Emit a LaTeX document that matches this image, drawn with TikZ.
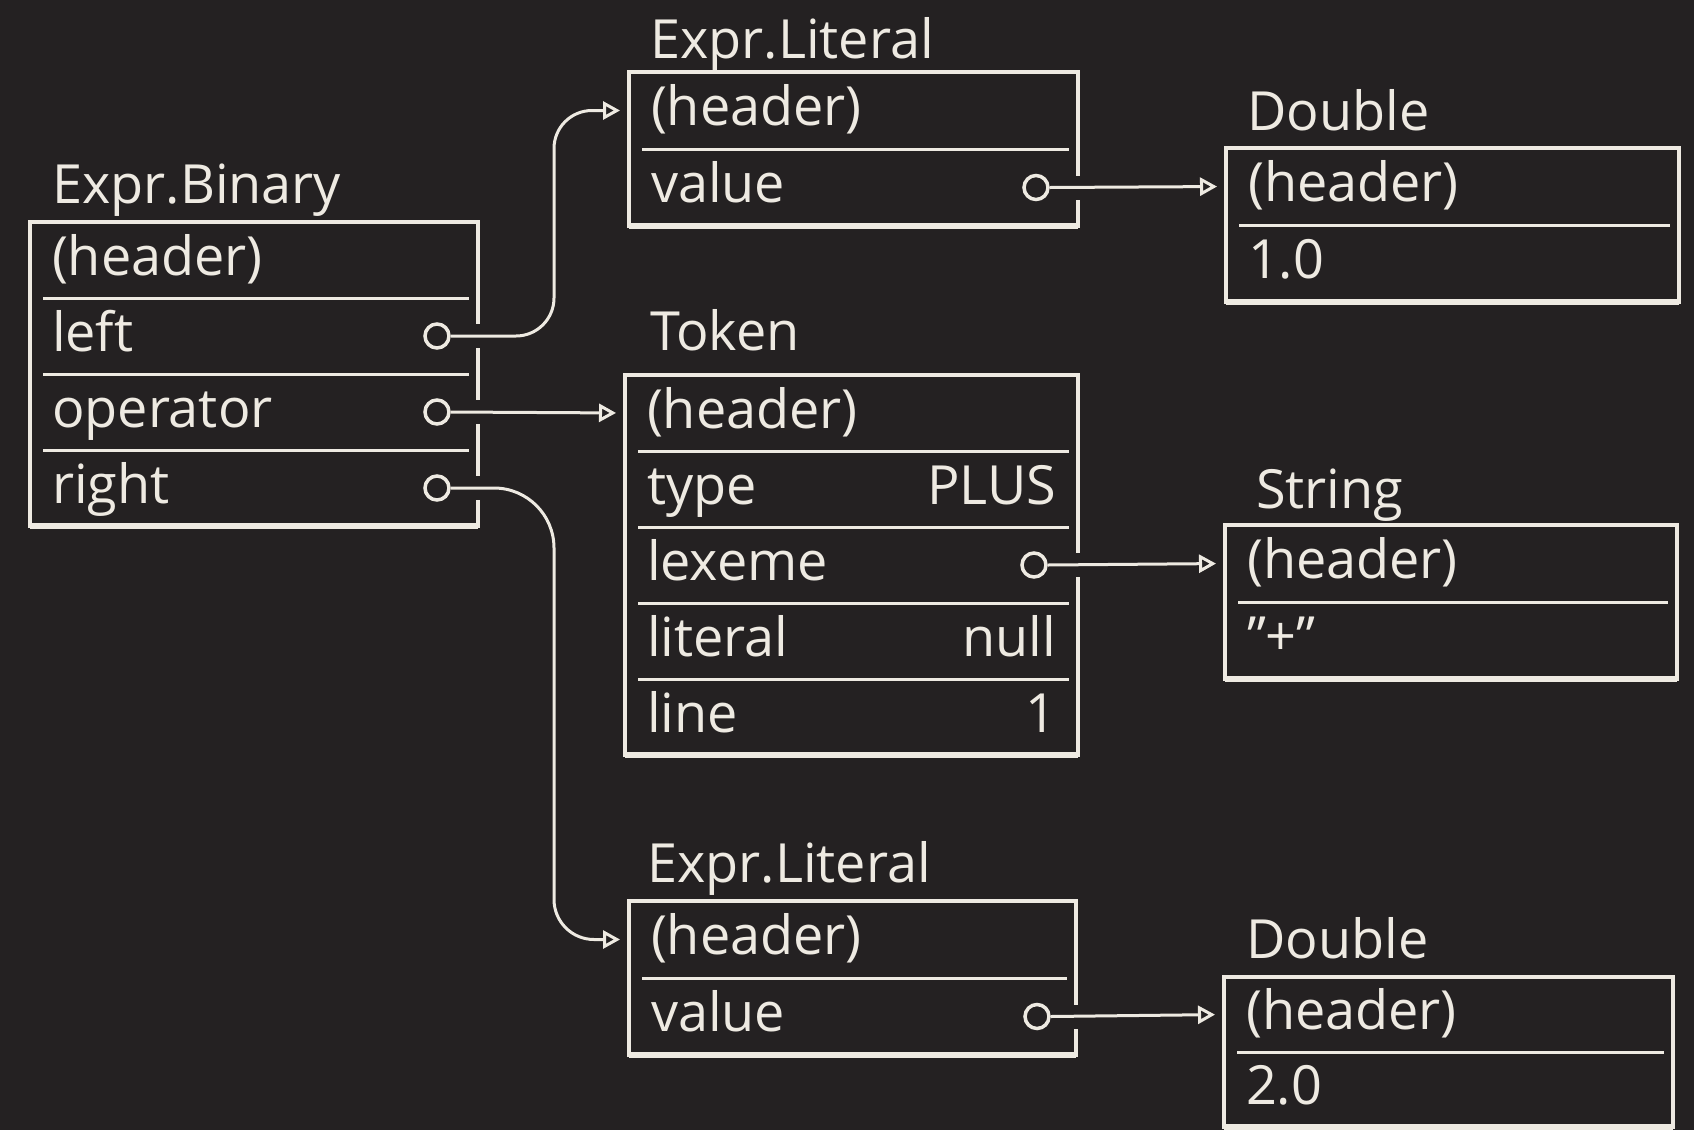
\documentclass[tikz,border=0pt]{standalone}
\usepackage{fontspec}
\setmainfont{Open Sans}
\usetikzlibrary{arrows.meta,fit,calc}
\definecolor{board}{RGB}{36,33,34}
\definecolor{chalk}{RGB}{238,234,226}
\newcommand\fieldfont{\fontsize{54}{60}\selectfont}
\newcommand\pushright{\hskip 0pt plus 1fill\relax}
\tikzset{
  fieldcell/.style={draw=none, inner xsep=22pt, inner ysep=0pt, outer sep=0pt,
    minimum height=76pt, text height=42pt, text depth=12pt, anchor=north west,
    font=\fieldfont, text=chalk, align=left},
  objframe/.style={draw=chalk, line width=3.5pt, inner sep=0pt, outer sep=0pt, fit=#1},
  heavyedge/.style={draw=chalk, line width=6pt},
  divider/.style={draw=chalk, line width=3pt},
  ptr/.style={circle, draw=chalk, line width=3.5pt, minimum size=24pt, inner sep=0pt},
  conn/.style={draw=chalk, line width=3pt, -{Triangle[open, length=17pt, width=18pt]}, shorten >=9pt},
  title/.style={anchor=base west, font=\fieldfont, text=chalk, inner sep=0pt},
}
% a break in a box edge where a pointer leaves it
\newcommand\edgegap[2]{\fill[board] ($(#1.east |- #2)+(-5,-12)$) rectangle ($(#1.east |- #2)+(5,12)$);}
\begin{document}
\begin{tikzpicture}[x=1pt,y=-1pt]
\fill[board] (0,0) rectangle (1694,1130);

% ---- Expr.Binary
\node[fieldcell, text width=404pt] (b1) at (30,222) {(header)};
\node[fieldcell, text width=404pt] (b2) at (30,298) {left};
\node[fieldcell, text width=404pt] (b3) at (30,374) {operator};
\node[fieldcell, text width=404pt] (b4) at (30,450) {right};
\node[objframe={(b1)(b4)}] (binary) {};
\draw[heavyedge] (binary.south west) -- (binary.south east);
\foreach \r in {b1,b2,b3} \draw[divider] ([xshift=13pt]\r.south west) -- ([xshift=-9pt]\r.south east);
\node[title] (binaryT) at ([shift={(22,-19)}]binary.north west) {Expr.Binary};
\node[ptr] (pl) at ([xshift=-41pt]b2.east) {};
\node[ptr] (po) at ([xshift=-41pt]b3.east) {};
\node[ptr] (pr) at ([xshift=-41pt]b4.east) {};

% ---- Expr.Literal (left operand)
\node[fieldcell, text width=405pt, minimum height=77pt] (t1) at (629,72) {(header)};
\node[fieldcell, text width=405pt, minimum height=77pt] (t2) at (629,149) {value};
\node[objframe={(t1)(t2)}] (lit1) {};
\draw[heavyedge] (lit1.south west) -- (lit1.south east);
\draw[divider] ([xshift=13pt]t1.south west) -- ([xshift=-9pt]t1.south east);
\node[title] (lit1T) at ([shift={(21,-14)}]lit1.north west) {Expr.Literal};
\node[ptr] (pv1) at ([xshift=-42pt]t2.east) {};

% ---- Double 1.0
\node[fieldcell, text width=409pt, minimum height=77pt] (d1) at (1226,148) {(header)};
\node[fieldcell, text width=409pt, minimum height=77pt] (d2) at (1226,225) {1.0};
\node[objframe={(d1)(d2)}] (dbl1) {};
\draw[heavyedge] (dbl1.south west) -- (dbl1.south east);
\draw[divider] ([xshift=13pt]d1.south west) -- ([xshift=-9pt]d1.south east);
\node[title] (dbl1T) at ([shift={(21,-18)}]dbl1.north west) {Double};

% ---- Token
\node[fieldcell, text width=409pt] (k1) at (625,375) {(header)};
\node[fieldcell, text width=409pt] (k2) at (625,451) {type\pushright PLUS};
\node[fieldcell, text width=409pt] (k3) at (625,527) {lexeme};
\node[fieldcell, text width=409pt] (k4) at (625,603) {literal\pushright null};
\node[fieldcell, text width=409pt] (k5) at (625,679) {line\pushright 1};
\node[objframe={(k1)(k5)}] (token) {};
\draw[heavyedge] (token.south west) -- (token.south east);
\foreach \r in {k1,k2,k3,k4} \draw[divider] ([xshift=13pt]\r.south west) -- ([xshift=-9pt]\r.south east);
\node[title] (tokenT) at ([shift={(25,-25)}]token.north west) {Token};
\node[ptr] (plx) at ([xshift=-44pt]k3.east) {};

% ---- String "+"
\node[fieldcell, text width=408pt, minimum height=77pt] (s1) at (1225,525) {(header)};
\node[fieldcell, text width=408pt, minimum height=77pt] (s2) at (1225,602) {\symbol{34}+\symbol{34}};
\node[objframe={(s1)(s2)}] (str) {};
\draw[heavyedge] (str.south west) -- (str.south east);
\draw[divider] ([xshift=13pt]s1.south west) -- ([xshift=-9pt]s1.south east);
\node[title] (strT) at ([shift={(31,-17)}]str.north west) {String};

% ---- Expr.Literal (right operand)
\node[fieldcell, text width=403pt, minimum height=77pt] (u1) at (629,901) {(header)};
\node[fieldcell, text width=403pt, minimum height=77pt] (u2) at (629,978) {value};
\node[objframe={(u1)(u2)}] (lit2) {};
\draw[heavyedge] (lit2.south west) -- (lit2.south east);
\draw[divider] ([xshift=13pt]u1.south west) -- ([xshift=-9pt]u1.south east);
\node[title] (lit2T) at ([shift={(18,-19)}]lit2.north west) {Expr.Literal};
\node[ptr] (pv2) at ([xshift=-39pt]u2.east) {};

% ---- Double 2.0
\node[fieldcell, text width=405pt, minimum height=75pt] (e1) at (1224,977) {(header)};
\node[fieldcell, text width=405pt, minimum height=75pt] (e2) at (1224,1052) {2.0};
\node[objframe={(e1)(e2)}] (dbl2) {};
\draw[heavyedge] (dbl2.south west) -- (dbl2.south east);
\draw[divider] ([xshift=13pt]e1.south west) -- ([xshift=-9pt]e1.south east);
\node[title] (dbl2T) at ([shift={(22,-19)}]dbl2.north west) {Double};

% ---- pointers leaving the boxes
\edgegap{binary}{pl}
\edgegap{binary}{po}
\edgegap{binary}{pr}
\edgegap{lit1}{pv1}
\edgegap{token}{plx}
\edgegap{lit2}{pv2}

\coordinate (bus) at (554,300);
\draw[conn, rounded corners=38pt] (pl.east) -| (bus |- t1.west) -- (t1.west);
\draw[conn] (po.east) -- (k1.west);
\draw[conn] (pr.east) [rounded corners=60pt] -- (bus |- pr.east) [rounded corners=40pt] -- (bus |- u1.west) -- (u1.west);
\draw[conn] (pv1.east) -- (d1.west);
\draw[conn] (plx.east) -- (s1.west);
\draw[conn] (pv2.east) -- (e1.west);
\end{tikzpicture}
\end{document}
